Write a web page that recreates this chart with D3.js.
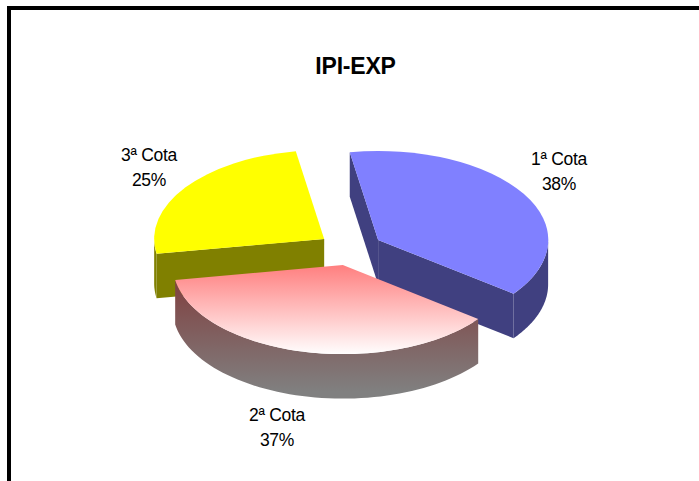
<!DOCTYPE html>
<html>
<head>
  <meta charset="utf-8">
  <title>IPI-EXP</title>
  <style>
    html, body { margin: 0; background: #fff; }
    svg { display: block; }
    text { font-family: "Liberation Sans", Arial, sans-serif; fill: #000; text-anchor: middle; }
  </style>
</head>
<body>
  <svg width="699" height="481"></svg>
  <script src="https://d3js.org/d3.v7.min.js"></script>
  <script>
    const categories = ["1ª Cota", "2ª Cota", "3ª Cota"];
    const values = [38, 37, 25];
    const labelPos = [[559, 165], [277, 421], [149, 161]];

    const rx = 170, ry = 89, depth = 44.5;
    const cx = 350.5, cy = 248.7, explode = 0.19;
    const startDeg = -9.6;

    const svg = d3.select("svg");
    const defs = svg.append("defs");

    // chart frame, only top and left edges are in view
    svg.append("path")
      .attr("d", "M9,481V8H699")
      .attr("fill", "none")
      .attr("stroke", "#000")
      .attr("stroke-width", 4);

    svg.append("text")
      .attr("x", 355.5).attr("y", 74)
      .attr("font-size", 23).attr("font-weight", "bold")
      .attr("letter-spacing", -0.2)
      .text("IPI-EXP");

    function vGrad(id, y1, y2, c1, c2) {
      const g = defs.append("linearGradient").attr("id", id)
        .attr("gradientUnits", "userSpaceOnUse")
        .attr("x1", 0).attr("x2", 0).attr("y1", y1).attr("y2", y2);
      g.append("stop").attr("offset", 0).attr("stop-color", c1);
      g.append("stop").attr("offset", 1).attr("stop-color", c2);
    }

    const pie = d3.pie().sort(null)
      .startAngle(startDeg * Math.PI / 180)
      .endAngle(startDeg * Math.PI / 180 + 2 * Math.PI);
    const arcs = pie(values);

    const arcUnit = d3.arc().innerRadius(0).outerRadius(1);
    const line = d3.line();

    function centre(a) {
      const m = (a.startAngle + a.endAngle) / 2;
      return [cx + explode * rx * Math.sin(m), cy - explode * ry * Math.cos(m)];
    }
    function rim(c, t) {
      return [c[0] + rx * Math.sin(t), c[1] - ry * Math.cos(t)];
    }
    // vertical wall below a run of top-face points
    function wall(points) {
      const low = points.map(p => [p[0], p[1] + depth]).reverse();
      return line(points.concat(low)) + "Z";
    }
    function rimWall(c, t0, t1) {
      return wall(d3.range(0, 61).map(i => rim(c, t0 + (t1 - t0) * i / 60)));
    }

    vGrad("redTop", 266, 355, "#ff8080", "#ffffff");
    vGrad("redWall", 280, 392, "#804040", "#808080");

    const fills = ["#8080ff", "url(#redTop)", "#ffff00"];
    const wallFills = ["#404080", "url(#redWall)", "#808000"];
    const order = [2, 0, 1];

    order.forEach(i => {
      const a = arcs[i], c = centre(a);
      const g = svg.append("g");
      const walls = [];
      if (i === 0) {
        walls.push(wall([rim(c, a.startAngle), c]));
        walls.push(wall([c, rim(c, a.endAngle)]));
        walls.push(rimWall(c, Math.PI / 2, a.endAngle));
      } else if (i === 1) {
        walls.push(rimWall(c, a.startAngle, a.endAngle));
      } else {
        walls.push(wall([c, rim(c, a.startAngle)]));
        walls.push(rimWall(c, a.startAngle, 1.5 * Math.PI));
      }
      g.selectAll("path.wall").data(walls).join("path")
        .attr("class", "wall")
        .attr("d", d => d)
        .attr("fill", wallFills[i]);

      if (i === 1) {
        // gradient has to stay in page space, so flatten the arc points
        const n = 80, pts = [c];
        d3.range(0, n + 1).forEach(k => pts.push(rim(c, a.startAngle + (a.endAngle - a.startAngle) * k / n)));
        g.append("path").attr("d", line(pts) + "Z").attr("fill", fills[i]);
      } else {
        g.append("path")
          .attr("transform", `translate(${c[0]},${c[1]}) scale(${rx},${ry})`)
          .attr("d", arcUnit(a))
          .attr("fill", fills[i]);
      }
    });

    categories.forEach((name, i) => {
      const t = svg.append("text").attr("font-size", 17.5).attr("letter-spacing", -0.3);
      t.append("tspan").attr("x", labelPos[i][0]).attr("y", labelPos[i][1]).text(name);
      t.append("tspan").attr("x", labelPos[i][0]).attr("y", labelPos[i][1] + 25).text(values[i] + "%");
    });
  </script>
</body>
</html>
